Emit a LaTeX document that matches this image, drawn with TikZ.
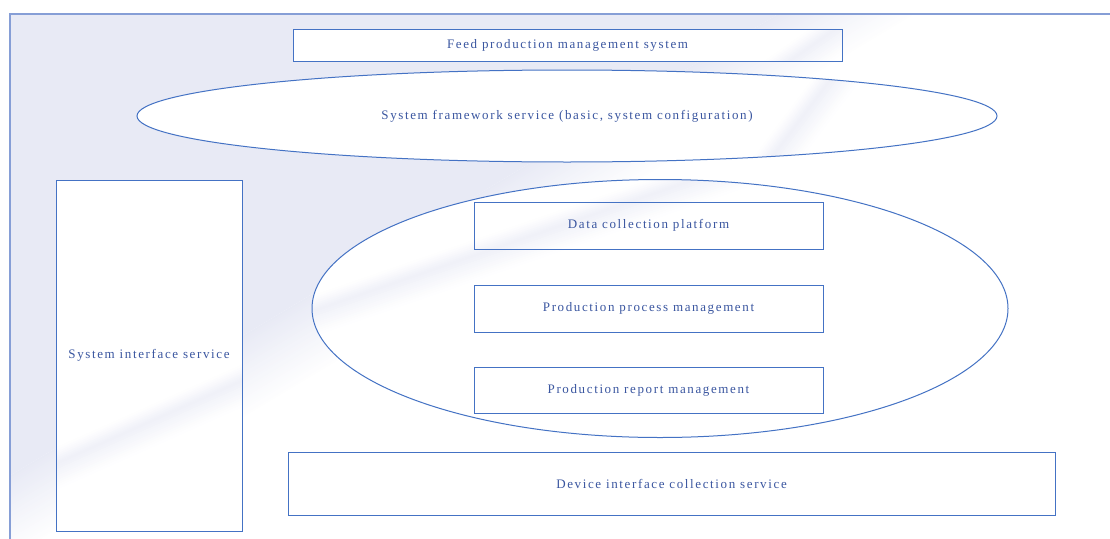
\documentclass[tikz,border=0pt]{standalone}
\usepackage{fontspec}
\setmainfont{Liberation Serif}[LetterSpace=12.5]
\usetikzlibrary{shapes.geometric}
\definecolor{lav}{RGB}{232,234,245}
\definecolor{edge}{RGB}{68,114,196}
\definecolor{bgedge}{RGB}{134,158,214}
\definecolor{txt}{RGB}{58,86,160}
% glossy stripe: centre x, centre y, angle (screen coordinates, y downwards)
\newcommand\glossband[3]{%
  \foreach \s in {-14,-12,...,22}{%
    \pgfmathsetmacro\p{max(0,ifthenelse((\s)+1<0,70*((\s)+15)/15,70*(1-((\s)+1)/24)))}%
    \fill[lav!\p!white]
      ({#1+(\s)*sin(#3)+700*cos(#3)},{#2+(\s)*cos(#3)-700*sin(#3)}) --
      ({#1+(\s)*sin(#3)-700*cos(#3)},{#2+(\s)*cos(#3)+700*sin(#3)}) --
      ({#1+((\s)+2.3)*sin(#3)-700*cos(#3)},{#2+((\s)+2.3)*cos(#3)+700*sin(#3)}) --
      ({#1+((\s)+2.3)*sin(#3)+700*cos(#3)},{#2+((\s)+2.3)*cos(#3)-700*sin(#3)}) -- cycle;}}
\newcommand\bgbands[3]{%
  \fill[lav]
    ({#1-25*sin(#3)+1800*cos(#3)},{#2-25*cos(#3)-1800*sin(#3)}) --
    ({#1-25*sin(#3)-1800*cos(#3)},{#2-25*cos(#3)+1800*sin(#3)}) --
    ({#1-1800*sin(#3)-1800*cos(#3)},{#2-1800*cos(#3)+1800*sin(#3)}) --
    ({#1-1800*sin(#3)+1800*cos(#3)},{#2-1800*cos(#3)-1800*sin(#3)}) -- cycle;
  \foreach \s in {-25,-23,...,45}{%
    \pgfmathsetmacro\p{max(0,100*(1-((\s)+26)/72))}%
    \fill[lav!\p!white]
      ({#1+(\s)*sin(#3)+1800*cos(#3)},{#2+(\s)*cos(#3)-1800*sin(#3)}) --
      ({#1+(\s)*sin(#3)-1800*cos(#3)},{#2+(\s)*cos(#3)+1800*sin(#3)}) --
      ({#1+((\s)+2.3)*sin(#3)-1800*cos(#3)},{#2+((\s)+2.3)*cos(#3)+1800*sin(#3)}) --
      ({#1+((\s)+2.3)*sin(#3)+1800*cos(#3)},{#2+((\s)+2.3)*cos(#3)-1800*sin(#3)}) -- cycle;}}
\tikzset{
  lbl/.style={font=\fontsize{13pt}{15pt}\selectfont, text=txt, inner sep=0pt},
  boxnode/.style={lbl, draw=edge, line width=1pt, rectangle},
  ellnode/.style={lbl, draw=edge, line width=1pt, ellipse},
}
\begin{document}
\begin{tikzpicture}[x=1pt,y=-1pt]
\useasboundingbox (0,0) rectangle (1110,538);
% background panel
\begin{scope}
  \clip (10,14) rectangle (1130,560);
  \fill[white] (10,14) rectangle (1130,560);
  \bgbands{800}{30}{31}
\end{scope}
\draw[bgedge, line width=1.5pt] (10,14) rectangle (1130,560);
% fills of the shapes
\begin{scope}
  \clip (293,29) rectangle (842,61);
  \fill[white] (293,29) rectangle (842,61);
  \glossband{812}{45}{35}
\end{scope}
\begin{scope}
  \clip (567,116) ellipse [x radius=430, y radius=46];
  \fill[white] (567,116) ellipse [x radius=430, y radius=46];
  \glossband{801}{118}{53}
\end{scope}
\begin{scope}
  \clip (56,180) rectangle (242,531);
  \fill[white] (56,180) rectangle (242,531);
  \glossband{128}{431}{24}
\end{scope}
\begin{scope}
  \clip (660,308.5) ellipse [x radius=348, y radius=129];
  \fill[white] (660,308.5) ellipse [x radius=348, y radius=129];
  \glossband{480}{253}{19}
\end{scope}
\fill[white] (288,452.5) rectangle (1055,515.5);
% nodes
\node[boxnode, minimum width=549pt, minimum height=32pt] (feed) at (567.5,45) {Feed production management system};
\node[ellnode, minimum width=860pt, minimum height=92pt] (fw) at (567,116) {System framework service (basic, system configuration)};
\node[boxnode, minimum width=186pt, minimum height=351pt] (sysif) at (149,355.5) {System interface service};
\node[ellnode, minimum width=696pt, minimum height=258pt] (core) at (660,308.5) {};
\node[boxnode, minimum width=349pt, minimum height=47pt] (dcp) at (648.5,225.5) {Data collection platform};
\node[boxnode, minimum width=349pt, minimum height=47pt] (ppm) at (648.5,308.5) {Production process management};
\node[boxnode, minimum width=349pt, minimum height=46pt] (prm) at (648.5,390) {Production report management};
\node[boxnode, minimum width=767pt, minimum height=63pt] (dev) at (671.5,484) {Device interface collection service};
\end{tikzpicture}
\end{document}
